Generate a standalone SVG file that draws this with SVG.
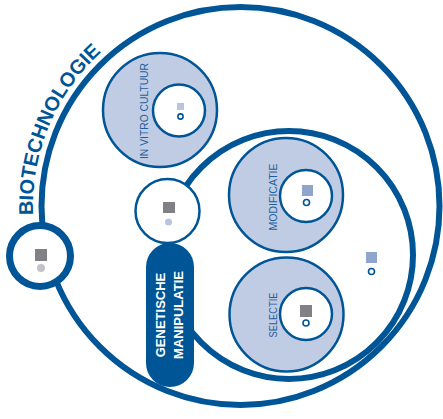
<svg xmlns="http://www.w3.org/2000/svg" width="443" height="419" viewBox="0 0 443 419">
<style>
.ring{fill:none;stroke:#005596;stroke-width:6}
.node{fill:#c0cce4;stroke:#005596;stroke-width:2.5}
.inner{fill:#fff;stroke:#005596;stroke-width:2.5}
.lbl{font-family:"Liberation Sans",Arial,sans-serif;font-size:10.5px;fill:#1f5e9c;text-anchor:middle}
.pilltxt{font-family:"Liberation Sans",Arial,sans-serif;font-size:13px;font-weight:bold;fill:#fff;text-anchor:middle}
.title{font-family:"Liberation Sans",Arial,sans-serif;font-size:20px;font-weight:bold;fill:#005596}
.sqg{fill:#808085}
.sqb{fill:#8fa5cc}
.sql{fill:#b9c5df}
.dot{fill:#fff;stroke:#005596;stroke-width:1.6}
</style>
<defs>
<path id="arc" d="M 33.2,215 A 207 207 0 0 1 136.5,26.7"/>
</defs>
<g id="connectors"></g>
<g id="biotechnologie">
<circle class="ring" cx="240.5" cy="206" r="199"/>
<text class="title"><textPath href="#arc">BIOTECHNOLOGIE</textPath></text>
</g>
<g id="genetische-manipulatie-area">
<circle class="ring" cx="289" cy="255" r="124"/>
<rect class="sqb" x="366" y="252" width="11" height="11"/>
<circle class="dot" cx="371.5" cy="271.5" r="3"/>
</g>
<g id="in-vitro-cultuur">
<circle class="node" cx="160" cy="110" r="57"/>
<circle class="inner" cx="179" cy="110.5" r="26"/>
<rect class="sql" x="177" y="103" width="7" height="7"/>
<circle class="dot" cx="180.5" cy="116.5" r="2.6"/>
<text class="lbl" transform="translate(148,111) rotate(-90)" textLength="96" lengthAdjust="spacingAndGlyphs">IN VITRO CULTUUR</text>
</g>
<g id="modificatie">
<circle class="node" cx="286" cy="195" r="57"/>
<circle class="inner" cx="306" cy="196" r="26"/>
<rect class="sqb" x="302" y="185" width="11" height="11"/>
<circle class="dot" cx="306.5" cy="202.5" r="3"/>
<text class="lbl" transform="translate(277,197) rotate(-90)" textLength="67" lengthAdjust="spacingAndGlyphs">MODIFICATIE</text>
</g>
<g id="selectie">
<circle class="node" cx="286.5" cy="314.5" r="57"/>
<circle class="inner" cx="306" cy="314" r="26"/>
<rect class="sqg" x="300" y="305" width="12" height="12"/>
<circle class="dot" cx="306" cy="323" r="3"/>
<text class="lbl" transform="translate(276.5,315) rotate(-90)" textLength="45" lengthAdjust="spacingAndGlyphs">SELECTIE</text>
</g>
<g id="genetische-manipulatie">
<circle class="inner" cx="167.5" cy="211" r="32"/>
<rect class="sqg" x="163" y="202" width="12" height="11"/>
<circle cx="168.5" cy="222" r="3.5" fill="#b9c5df"/>
<rect x="146" y="243" width="48" height="144" rx="24" fill="#005596"/>
<text class="pilltxt" transform="translate(165,315) rotate(-90)">GENETISCHE</text>
<text class="pilltxt" transform="translate(183,315) rotate(-90)">MANIPULATIE</text>
</g>
<g id="start-node">
<circle cx="40" cy="256" r="30.5" fill="#fff" stroke="#005596" stroke-width="7"/>
<rect class="sqg" x="35" y="249" width="12" height="12"/>
<circle cx="41" cy="268" r="4" fill="#c2c2c8"/>
</g>
</svg>
